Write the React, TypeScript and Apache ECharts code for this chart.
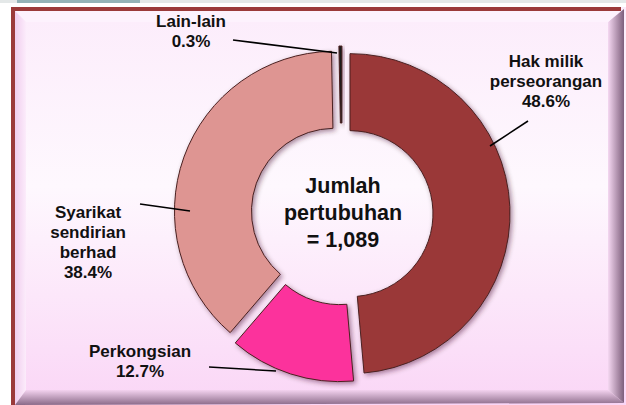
import React, { useEffect, useRef } from "react";
import * as echarts from "echarts";

const categories = ["Hak milik\nperseorangan", "Perkongsian", "Syarikat\nsendirian\nberhad", "Lain-lain"];
const percents = [48.6, 12.7, 38.4, 0.3];
const sliceColors = ["#9a3737", "#fc339c", "#de9592", "#1e1e1e"];
const totalLabel = "Jumlah\npertubuhan\n= 1,089";

// layout only: label anchor and leader-line points per slice
const LABEL_POS = [
  { x: 546, y: 81, line: [[490, 146], [528, 121]] },
  { x: 140, y: 361, line: [[276, 371], [209, 367]] },
  { x: 88, y: 242, line: [[190, 211], [140, 204]] },
  { x: 191, y: 31, line: [[337, 53], [233, 40]] },
];

const FONT = "'Liberation Sans', Arial, sans-serif";

export default function App() {
  const ref = useRef<HTMLDivElement>(null);
  useEffect(() => {
    const chart = echarts.init(ref.current!, null, { renderer: "svg" });
    const W = 626, H = 405;
    const labelGraphics: any[] = [];
    categories.forEach((name, i) => {
      const L = LABEL_POS[i];
      labelGraphics.push({
        type: "text",
        x: L.x,
        y: L.y,
        style: {
          text: `${name}\n${percents[i].toFixed(1)}%`,
          fontFamily: FONT,
          fontWeight: "bold",
          fontSize: 17,
          lineHeight: 20,
          fill: "#111",
          align: "center",
          verticalAlign: "middle",
        },
        z: 6,
      });
      labelGraphics.push({
        type: "line",
        shape: { x1: L.line[0][0], y1: L.line[0][1], x2: L.line[1][0], y2: L.line[1][1] },
        style: { stroke: "#000", lineWidth: 1.6 },
        z: 6,
      });
    });
    chart.setOption({
      animation: false,
      graphic: [
        { type: "rect", shape: { x: 0, y: 0, width: W, height: 3 }, style: { fill: "#e4e8e8" }, z: 0 },
        { type: "rect", shape: { x: 17, y: 0, width: 123, height: 3 }, style: { fill: "#93b2b7" }, z: 0 },
        {
          type: "rect",
          shape: { x: 11, y: 7, width: W - 11, height: H - 7 },
          style: {
            fill: new echarts.graphic.LinearGradient(0, 0, 0, 1, [
              { offset: 0, color: "#fcecfb" },
              { offset: 0.45, color: "#fef8fe" },
              { offset: 1, color: "#fad6f6" },
            ]),
          },
          z: 0,
        },
        {
          type: "polygon",
          shape: { points: [[608, 22], [624, 9], [624, 403], [608, 390]] },
          style: {
            fill: new echarts.graphic.LinearGradient(0, 0, 1, 0, [
              { offset: 0, color: "#f5d8f2" },
              { offset: 1, color: "#7e5f7c" },
            ]),
          },
          z: 0,
        },
        {
          type: "polygon",
          shape: { points: [[15, 390], [608, 390], [624, 403], [15, 405]] },
          style: {
            fill: new echarts.graphic.LinearGradient(0, 0, 0, 1, [
              { offset: 0, color: "#f3d2ef" },
              { offset: 1, color: "#8a6a88" },
            ]),
          },
          z: 0,
        },
        {
          type: "polygon",
          shape: { points: [[15, 11], [620, 11], [608, 22], [26, 22]] },
          style: { fill: "#fdf2fd" },
          z: 0,
        },
        {
          type: "polygon",
          shape: { points: [[15, 11], [26, 22], [26, 390], [15, 405]] },
          style: {
            fill: new echarts.graphic.LinearGradient(0, 0, 1, 0, [
              { offset: 0, color: "#f0cdee" },
              { offset: 1, color: "#fcecfb" },
            ]),
          },
          z: 0,
        },
        { type: "rect", shape: { x: 11, y: 7, width: 4, height: H - 7 }, style: { fill: "#9b3a3a" }, z: 1 },
        { type: "rect", shape: { x: 11, y: 7, width: 610, height: 4 }, style: { fill: "#9b3a3a" }, z: 1 },
        {
          type: "text",
          x: 343,
          y: 213,
          style: {
            text: totalLabel,
            fontFamily: FONT,
            fontWeight: "bold",
            fontSize: 21.5,
            lineHeight: 27,
            fill: "#111",
            align: "center",
            verticalAlign: "middle",
          },
          z: 5,
        },
        ...labelGraphics,
      ],
      series: [
        {
          type: "pie",
          center: [342, 214],
          radius: [83, 160],
          startAngle: 90,
          clockwise: true,
          selectedMode: "multiple",
          selectedOffset: 8,
          avoidLabelOverlap: false,
          z: 3,
          itemStyle: {
            borderColor: "#4a2020",
            borderWidth: 1,
            shadowBlur: 5,
            shadowColor: "rgba(60,0,40,0.45)",
            shadowOffsetX: 2,
            shadowOffsetY: 2,
          },
          select: { itemStyle: { borderColor: "#4a2020", borderWidth: 1 } },
          label: { show: false },
          labelLine: { show: false },
          data: categories.map((name, i) => ({
            name,
            value: percents[i],
            selected: true,
            itemStyle: { color: sliceColors[i] },
          })),
        },
      ],
    });
    return () => chart.dispose();
  }, []);
  return <div ref={ref} style={{ width: 626, height: 405, position: "absolute", left: 0, top: 0 }} />;
}
